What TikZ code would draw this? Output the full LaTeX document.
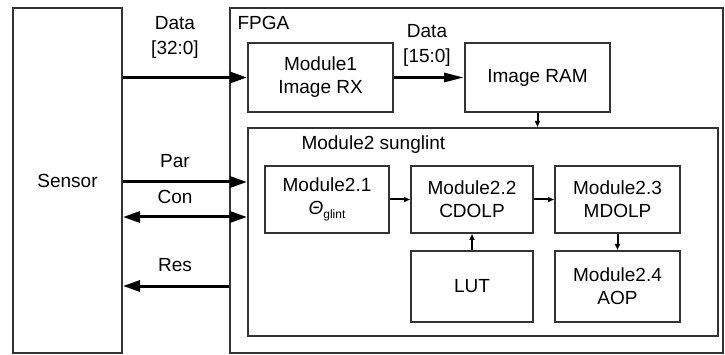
\documentclass[tikz,border=0pt]{standalone}
\usepackage{fontspec}
\setmainfont{Liberation Sans}
\usetikzlibrary{arrows.meta,positioning}

\begin{document}
\begin{tikzpicture}[x=1pt,y=-1pt,
  every node/.style={font=\fontsize{19}{23}\selectfont},
  blk/.style={draw=black!80,line width=2pt,align=center,inner sep=0pt},
  lbl/.style={align=center,font=\fontsize{19}{25}\selectfont},
  bus/.style={line width=3pt,-{Triangle[length=17pt,width=11pt]}},
  busboth/.style={line width=3pt,{Triangle[length=17pt,width=11pt]}-{Triangle[length=17pt,width=11pt]}},
  wire/.style={line width=2pt,-{Triangle[length=6pt,width=5pt]}}]
\useasboundingbox (0,0) rectangle (725,355);
% Sensor and FPGA frames
\node[blk,minimum width=109pt,minimum height=345pt] (sensor) at (67.5,180.5) {Sensor};
\node[blk,minimum width=493pt,minimum height=345pt] (fpga) at (476.5,180.5) {};
\node[anchor=west] (fpgatxt) at ([xshift=5pt,yshift=-16pt]fpga.north west) {FPGA};
% Receiver and memory
\node[blk,minimum width=145pt,minimum height=69pt] (rx) at (320.5,77.5) {Module1\\Image RX};
\node[blk,minimum width=145pt,minimum height=69pt] (ram) at (537.5,77.5) {Image RAM};
% Module2 with its sub-blocks
\node[blk,minimum width=470pt,minimum height=208pt] (m2) at (483,232) {};
\node[anchor=west] (m2txt) at (298,145) {Module2 sunglint};
\node[blk,minimum width=124pt,minimum height=67pt] (m21) at (327,199.5)
  {Module2.1\\\textit{Θ}\raisebox{-0.45ex}{\fontsize{12}{12}\selectfont glint}};
\node[blk,minimum width=122pt,minimum height=67pt] (m22) at (472,199.5) {Module2.2\\CDOLP};
\node[blk,minimum width=125pt,minimum height=67pt] (m23) at (617.5,199.5) {Module2.3\\MDOLP};
\node[blk,minimum width=122pt,minimum height=71pt] (lut) at (472,286.5) {LUT};
\node[blk,minimum width=125pt,minimum height=71pt] (m24) at (617.5,286.5) {Module2.4\\AOP};
% Sensor interface
\coordinate (par) at (0,182);
\coordinate (con) at (0,217);
\coordinate (res) at (0,286);
\draw[bus] (sensor.east |- rx) -- (rx.west);
\draw[bus] (sensor.east |- par) -- (m2.west |- par);
\draw[busboth] (sensor.east |- con) -- (m2.west |- con);
\draw[bus] (fpga.west |- res) -- (sensor.east |- res);
\node[lbl] (datalbl) at (175,37) {Data\\{}[32:0]};
\node (parlbl) at (175,161) {Par};
\node (conlbl) at (175,197) {Con};
\node (reslbl) at (175,265) {Res};
% Internal data path
\draw[line width=3pt,-{Triangle[length=20pt,width=9pt]}] (rx.east) -- (ram.west);
\node[lbl] (data2lbl) at (427,45) {Data\\{}[15:0]};
\draw[wire] (ram.south) -- (ram.south |- m2.north);
\draw[wire] (m21.east) -- (m22.west);
\draw[wire] (m22.east) -- (m23.west);
\draw[wire] (lut.north) -- (m22.south);
\draw[wire] (m23.south) -- (m24.north);
\end{tikzpicture}
\end{document}
